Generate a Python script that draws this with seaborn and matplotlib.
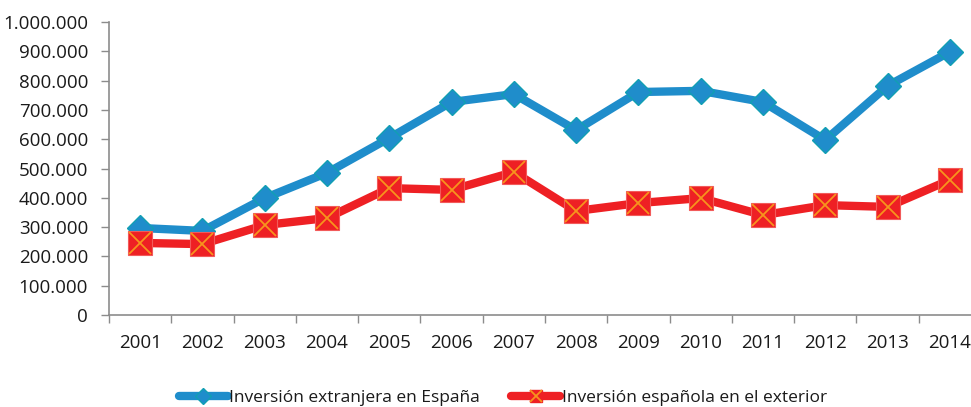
import matplotlib
matplotlib.use("Agg")
import matplotlib.pyplot as plt
import seaborn as sns
import pandas as pd
import numpy as np
from matplotlib.lines import Line2D
from matplotlib.legend_handler import HandlerTuple
from matplotlib.ticker import FuncFormatter, FixedLocator

# Values
years = ['2001', '2002', '2003', '2004', '2005', '2006', '2007',
         '2008', '2009', '2010', '2011', '2012', '2013', '2014']
foreign_in_spain = [297000, 287000, 399000, 485000, 604000, 727000, 754000,
                    631000, 761000, 765000, 727000, 597000, 782000, 898000]
spanish_abroad = [246000, 242000, 307000, 331000, 433000, 427000, 488000,
                  355000, 382000, 399000, 341000, 375000, 369000, 461000]

label_blue = 'Inversión extranjera en España'
label_red = 'Inversión española en el exterior'

blue = '#1f8dcb'
blue_edge = '#119fb3'
red = '#ee2024'
orange = '#f7941d'
grey = '#8c8c8c'
text_col = '#1a1a1a'

df = pd.DataFrame({'year': years, 'blue': foreign_in_spain, 'red': spanish_abroad})

sns.set_style('white')
plt.rcParams['font.family'] = ['Open Sans', 'DejaVu Sans']

fig = plt.figure(figsize=(9.71, 4.07), dpi=100)
ax = fig.add_axes([109 / 971, 1 - 315 / 407, 872 / 971, 293 / 407])

sns.lineplot(data=df, x='year', y='blue', ax=ax, color=blue, linewidth=6,
             marker='D', markersize=13.5, markerfacecolor=blue,
             markeredgecolor=blue_edge, markeredgewidth=1, sort=False)
sns.lineplot(data=df, x='year', y='red', ax=ax, color=red, linewidth=6,
             marker='s', markersize=17, markerfacecolor=red,
             markeredgecolor='#f25a5a', markeredgewidth=0.8, sort=False)
# orange cross drawn on top of the red squares
ax.plot(np.arange(len(years)), df['red'], linestyle='none', marker='x',
        markersize=16, markeredgecolor=orange, markeredgewidth=1.3)

ax.set_xlim(-0.5, len(years) - 0.5)
ax.set_ylim(0, 1000000)
ax.set_yticks(np.arange(0, 1000001, 100000))
ax.yaxis.set_major_formatter(FuncFormatter(lambda v, p: f'{int(v):,}'.replace(',', '.')))

ax.xaxis.set_major_locator(FixedLocator(np.arange(len(years))))
ax.set_xticklabels(years)
ax.xaxis.set_minor_locator(FixedLocator(np.arange(-0.5, len(years), 1.0)))
ax.tick_params(axis='x', which='major', length=0, pad=14, labelsize=13.5, colors=text_col)
ax.tick_params(axis='x', which='minor', length=6, width=1, color=grey, bottom=True)
ax.tick_params(axis='y', length=6, width=1, color=grey, left=True, pad=9,
               labelsize=13.5, labelcolor=text_col)

ax.set_xlabel('')
ax.set_ylabel('')
for side in ['top', 'right']:
    ax.spines[side].set_visible(False)
for side in ['left', 'bottom']:
    ax.spines[side].set_color(grey)
    ax.spines[side].set_linewidth(1.2)

h_blue = Line2D([], [], color=blue, linewidth=6, marker='D', markersize=8,
                markerfacecolor=blue, markeredgecolor=blue_edge)
h_red_sq = Line2D([], [], color=red, linewidth=6, marker='s', markersize=9,
                  markerfacecolor=red, markeredgecolor=red)
h_red_x = Line2D([], [], linestyle='none', marker='x', markersize=9,
                 markeredgecolor=orange, markeredgewidth=1.3)
fig.legend([h_blue, (h_red_sq, h_red_x)], [label_blue, label_red],
           handler_map={tuple: HandlerTuple(ndivide=1, pad=0)},
           loc='center', bbox_to_anchor=(0.518, 1 - 398 / 407), ncol=2,
           frameon=False, handlelength=2.8, handletextpad=0.1,
           columnspacing=1.8, fontsize=12.5, labelcolor=text_col)

fig.savefig('out.png', dpi=100)
